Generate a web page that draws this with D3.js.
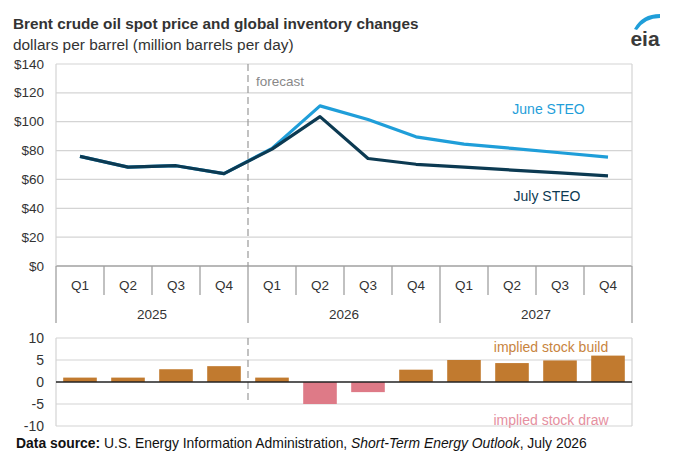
<!DOCTYPE html>
<html><head><meta charset="utf-8">
<script src="https://cdn.jsdelivr.net/npm/d3@7"></script>
<style>
html,body{margin:0;padding:0;background:#fff;}
svg{display:block;font-family:"Liberation Sans",Arial,sans-serif;}
</style></head>
<body>
<svg id="chart" width="677" height="459"></svg>
<script>
// ---- data ----
const years = ["2025", "2026", "2027"];
const quarters = ["Q1", "Q2", "Q3", "Q4"];
const julySTEO = [76, 68.5, 69.5, 64, 81, 103.5, 74.5, 70.5, 68.5, 66.5, 64.5, 62.5];
const juneSTEO = [76, 68.5, 69.5, 64, 81.5, 111, 101.5, 89.5, 84.5, 81.5, 78.5, 75.5];
const stockChange = [1.0, 1.0, 2.9, 3.6, 1.0, -5.0, -2.3, 2.8, 5.0, 4.3, 4.9, 6.0];
const priceTicks = [0, 20, 40, 60, 80, 100, 120, 140];
const stockTicks = [-10, -5, 0, 5, 10];
const forecastStart = "2026 Q1";

(function () {
const cats = [];
years.forEach(y => quarters.forEach(q => cats.push(y + " " + q)));

const svg = d3.select("#chart");
const L = 56, R = 632;
const x = d3.scaleBand().domain(cats).range([L, R]).paddingInner(0.3).paddingOuter(0.15);
const step = x.step();
const cx = c => x(c) + x.bandwidth() / 2;
const left = c => x(c) - step * x.paddingInner() / 2;

const yTop = d3.scaleLinear().domain([0, 140]).range([266, 64]);
const yBot = d3.scaleLinear().domain([-10, 10]).range([426, 338]);

const grid = "#d4d4d4", axisCol = "#a0a0a0", txt = "#333";

// ---- title ----
svg.append("text").attr("x", 13).attr("y", 29).attr("font-size", 15.3).attr("font-weight", "bold")
  .attr("fill", txt).text("Brent crude oil spot price and global inventory changes");
svg.append("text").attr("x", 13).attr("y", 50).attr("font-size", 15.4).attr("fill", txt)
  .text("dollars per barrel (million barrels per day)");

// eia logo
const logo = svg.append("g");
logo.append("path").attr("d", "M634,29 Q642,14 660,14 L660,18 Q645,18 637,30 Z").attr("fill", "#1f9ed9");
logo.append("text").attr("x", 645).attr("y", 46).attr("text-anchor", "middle").attr("font-size", 21)
  .attr("font-weight", "bold").attr("fill", "#3a3a3a").text("eia");

// ---- top panel ----
const gTop = svg.append("g");
priceTicks.forEach(t => {
  gTop.append("line").attr("x1", L).attr("x2", R).attr("y1", yTop(t)).attr("y2", yTop(t))
    .attr("stroke", t === 0 ? axisCol : grid).attr("stroke-width", t === 0 ? 1.6 : 1.2);
  gTop.append("text").attr("x", 44).attr("y", yTop(t) + 4.5).attr("text-anchor", "end")
    .attr("font-size", 13.5).attr("fill", txt).text("$" + t);
});
gTop.append("line").attr("x1", L).attr("x2", L).attr("y1", yTop(140)).attr("y2", yTop(0)).attr("stroke", grid).attr("stroke-width", 1.2);
gTop.append("line").attr("x1", R).attr("x2", R).attr("y1", yTop(140)).attr("y2", yTop(0)).attr("stroke", grid).attr("stroke-width", 1.2);

// category axis
cats.forEach((c, i) => {
  const qi = i % 4;
  const isYearStart = qi === 0;
  gTop.append("line").attr("x1", left(c)).attr("x2", left(c)).attr("y1", yTop(0))
    .attr("y2", isYearStart ? 323 : 295).attr("stroke", axisCol).attr("stroke-width", 1.3);
  gTop.append("text").attr("x", cx(c)).attr("y", 290).attr("text-anchor", "middle")
    .attr("font-size", 13.5).attr("fill", txt).text(quarters[qi]);
});
gTop.append("line").attr("x1", R).attr("x2", R).attr("y1", yTop(0)).attr("y2", 323).attr("stroke", axisCol).attr("stroke-width", 1.3);
years.forEach((y, i) => {
  const a = left(y + " Q1"), b = left(y + " Q4") + step;
  gTop.append("text").attr("x", (a + b) / 2).attr("y", 319).attr("text-anchor", "middle")
    .attr("font-size", 13.5).attr("fill", txt).text(y);
});

// forecast line
const fx = left(forecastStart);
gTop.append("line").attr("x1", fx).attr("x2", fx).attr("y1", yTop(140)).attr("y2", yTop(0))
  .attr("stroke", "#999").attr("stroke-width", 1.2).attr("stroke-dasharray", "7,4");
gTop.append("text").attr("x", fx + 8).attr("y", 86).attr("font-size", 13.5).attr("fill", "#888").text("forecast");

const line = d3.line().x((d, i) => cx(cats[i])).y(d => yTop(d));
gTop.append("path").datum(juneSTEO).attr("d", line).attr("fill", "none")
  .attr("stroke", "#1f9ed9").attr("stroke-width", 3.2).attr("stroke-linejoin", "round");
gTop.append("path").datum(julySTEO).attr("d", line).attr("fill", "none")
  .attr("stroke", "#0c3a52").attr("stroke-width", 3.2).attr("stroke-linejoin", "round");
gTop.append("text").attr("x", 548.5).attr("y", 114).attr("text-anchor", "middle").attr("font-size", 14)
  .attr("fill", "#1f9ed9").text("June STEO");
gTop.append("text").attr("x", 547).attr("y", 200.5).attr("text-anchor", "middle").attr("font-size", 14)
  .attr("fill", "#0c3a52").text("July STEO");

// ---- bottom panel ----
const gBot = svg.append("g");
stockTicks.forEach(t => {
  if (t !== 0) gBot.append("line").attr("x1", L).attr("x2", R).attr("y1", yBot(t)).attr("y2", yBot(t))
    .attr("stroke", grid).attr("stroke-width", 1.2);
  gBot.append("text").attr("x", 44).attr("y", yBot(t) + 5).attr("text-anchor", "end")
    .attr("font-size", 14).attr("fill", txt).text(t);
});
gBot.append("line").attr("x1", L).attr("x2", L).attr("y1", yBot(10)).attr("y2", yBot(-10)).attr("stroke", grid).attr("stroke-width", 1.2);
gBot.append("line").attr("x1", R).attr("x2", R).attr("y1", yBot(10)).attr("y2", yBot(-10)).attr("stroke", grid).attr("stroke-width", 1.2);

gBot.selectAll("rect.bar").data(stockChange).enter().append("rect").attr("class", "bar")
  .attr("x", (d, i) => x(cats[i])).attr("width", x.bandwidth())
  .attr("y", d => yBot(Math.max(0, d))).attr("height", d => Math.abs(yBot(d) - yBot(0)))
  .attr("fill", d => d >= 0 ? "#c17a2f" : "#de7a87");

gBot.append("line").attr("x1", fx).attr("x2", fx).attr("y1", yBot(10)).attr("y2", yBot(-5))
  .attr("stroke", "#999").attr("stroke-width", 1.2).attr("stroke-dasharray", "7,4");
gBot.append("line").attr("x1", L).attr("x2", R).attr("y1", yBot(0)).attr("y2", yBot(0))
  .attr("stroke", "#222").attr("stroke-width", 1.6);

gBot.append("text").attr("x", 551).attr("y", 352).attr("text-anchor", "middle").attr("font-size", 14)
  .attr("fill", "#c8843e").text("implied stock build");
gBot.append("text").attr("x", 551).attr("y", 425).attr("text-anchor", "middle").attr("font-size", 14)
  .attr("fill", "#e58fa0").text("implied stock draw");

// ---- source ----
const src = svg.append("text").attr("x", 16).attr("y", 448).attr("font-size", 13.9).attr("fill", "#111");
src.append("tspan").attr("font-weight", "bold").text("Data source:");
src.append("tspan").text(" U.S. Energy Information Administration, ");
src.append("tspan").attr("font-style", "italic").text("Short-Term Energy Outlook");
src.append("tspan").text(", July 2026");
})();
</script>
</body></html>
